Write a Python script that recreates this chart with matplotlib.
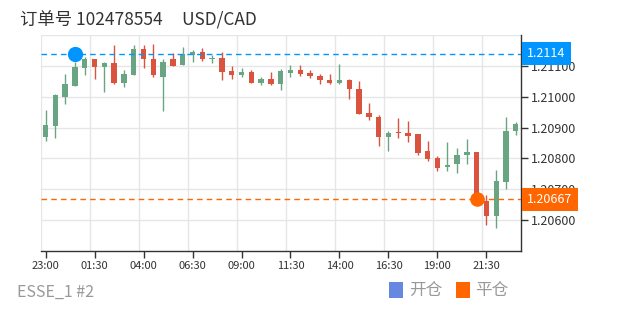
import matplotlib
matplotlib.use("Agg")
import matplotlib.pyplot as plt
from matplotlib.patches import Rectangle
from matplotlib.transforms import blended_transform_factory

plt.rcParams['font.family'] = ['Noto Sans CJK SC', 'DejaVu Sans']

# 30 minute candles, 23:00 -> 23:00 next day
opens = [1.20871, 1.20905, 1.21000, 1.21035, 1.21094, 1.21121, 1.21097, 1.21109, 1.21043, 1.21071,
         1.21154, 1.21122, 1.21063, 1.21121, 1.21103, 1.21135, 1.21146, 1.21123, 1.21126, 1.21083,
         1.21071, 1.21080, 1.21045, 1.21059, 1.21041, 1.21077, 1.21088, 1.21076, 1.21068, 1.21055,
         1.21045, 1.21054, 1.21025, 1.20946, 1.20935, 1.20869, 1.20884, 1.20882, 1.20879, 1.20823,
         1.20800, 1.20771, 1.20782, 1.20810, 1.20821, 1.20661, 1.20615, 1.20725, 1.20889]
highs = [1.20958, 1.21010, 1.21073, 1.21112, 1.21128, 1.21122, 1.21112, 1.21166, 1.21087, 1.21168,
         1.21168, 1.21170, 1.21123, 1.21141, 1.21160, 1.21152, 1.21159, 1.21134, 1.21146, 1.21099,
         1.21093, 1.21085, 1.21063, 1.21080, 1.21091, 1.21102, 1.21102, 1.21086, 1.21073, 1.21073,
         1.21105, 1.21057, 1.21051, 1.20980, 1.20940, 1.20888, 1.20931, 1.20922, 1.20880, 1.20856,
         1.20809, 1.20854, 1.20834, 1.20864, 1.20822, 1.20681, 1.20763, 1.20935, 1.20918]
lows = [1.20856, 1.20867, 1.20977, 1.21035, 1.21071, 1.21057, 1.21014, 1.21040, 1.21030, 1.21071,
        1.21093, 1.21063, 1.20953, 1.21101, 1.21103, 1.21114, 1.21116, 1.21108, 1.21054, 1.21058,
        1.21065, 1.21043, 1.21037, 1.21039, 1.21023, 1.21065, 1.21068, 1.21061, 1.21042, 1.21042,
        1.21041, 1.20992, 1.20945, 1.20924, 1.20840, 1.20824, 1.20867, 1.20852, 1.20812, 1.20793,
        1.20758, 1.20760, 1.20752, 1.20782, 1.20655, 1.20583, 1.20575, 1.20701, 1.20877]
closes = [1.20908, 1.21005, 1.21040, 1.21096, 1.21122, 1.21096, 1.21110, 1.21043, 1.21074, 1.21154,
          1.21122, 1.21071, 1.21112, 1.21101, 1.21140, 1.21146, 1.21123, 1.21125, 1.21081, 1.21071,
          1.21081, 1.21046, 1.21057, 1.21041, 1.21083, 1.21087, 1.21074, 1.21066, 1.21053, 1.21043,
          1.21054, 1.21026, 1.20945, 1.20934, 1.20868, 1.20883, 1.20882, 1.20874, 1.20817, 1.20799,
          1.20768, 1.20780, 1.20810, 1.20821, 1.20667, 1.20615, 1.20728, 1.20890, 1.20910]

tick_labels = ["23:00", "01:30", "04:00", "06:30", "09:00", "11:30", "14:00", "16:30", "19:00", "21:30"]
y_ticks = [1.206, 1.207, 1.208, 1.209, 1.210, 1.211]

open_idx, open_price = 3, 1.2114
close_idx, close_price = 44, 1.20667

title = "订单号 102478554     USD/CAD"
footer = "ESSE_1 #2"

green = "#6aa583"
red = "#d9533f"
blue = "#0095ff"
orange = "#ff6600"

fig = plt.figure(figsize=(6.2, 3.1), dpi=100)
ax = fig.add_axes([40.7 / 620, 1 - 251 / 310, 480 / 620, 216 / 310])

n = len(opens)
ax.set_xlim(-0.5, n - 0.5)
ax.set_ylim(1.205, 1.212)

# grid
for i in range(0, n, 5):
    ax.axvline(i - 0.5, color="#e6e6e6", lw=1, zorder=0)
for k in range(1, 8):
    ax.axhline(1.205 + k * 0.001, color="#e6e6e6", lw=1, zorder=0)

# candles
for i in range(n):
    o, h, l, c = opens[i], highs[i], lows[i], closes[i]
    col = green if c >= o else red
    ax.vlines(i, l, h, color=col, lw=1, zorder=2)
    bot = min(o, c)
    hgt = max(abs(c - o), 0.00003)
    ax.bar(i, hgt, bottom=bot, width=0.55, color=col, zorder=3, lw=0)

# open / close lines
ax.axhline(open_price, color=blue, lw=1, ls=(0, (4, 3)), zorder=4)
ax.axhline(close_price, color=orange, lw=1, ls=(0, (4, 3)), zorder=4)
ax.plot(open_idx, open_price, "o", ms=11, color=blue, mec="none", zorder=6, clip_on=False)
ax.plot(close_idx, close_price, "o", ms=10.5, color=orange, mec="none", zorder=6, clip_on=False)

# axes styling
for s in ["top", "left"]:
    ax.spines[s].set_visible(False)
for s in ["right", "bottom"]:
    ax.spines[s].set_color("#333333")
    ax.spines[s].set_linewidth(1)

ax.yaxis.tick_right()
ax.set_yticks(y_ticks)
ax.set_yticklabels(["%.5f" % v for v in y_ticks])
ax.tick_params(axis="y", length=5, width=1, color="#333333", labelcolor="#333333", labelsize=9, pad=2)

ax.set_xticks(list(range(0, n - 1, 5)))
ax.set_xticklabels(tick_labels)
ax.tick_params(axis="x", length=5, width=1, color="#333333", labelcolor="#333333", labelsize=8, pad=2)

trans = blended_transform_factory(ax.transAxes, ax.transData)
ax.text(1.014, open_price, "1.2114", transform=trans, color="white", fontsize=9, va="center", ha="left",
        zorder=10, bbox=dict(boxstyle="square,pad=0.42", fc=blue, ec="none"), clip_on=False)
ax.text(1.014, close_price, "1.20667", transform=trans, color="white", fontsize=9, va="center", ha="left",
        zorder=10, bbox=dict(boxstyle="square,pad=0.42", fc=orange, ec="none"), clip_on=False)

# title and footer
fig.text(20 / 620, 1 - 20 / 310, title, fontsize=12.5, color="#333333", va="center", ha="left")
fig.text(17 / 620, 1 - 292 / 310, footer, fontsize=11.5, color="#999999", va="center", ha="left")

fig.add_artist(Rectangle((389 / 620, 1 - 298 / 310), 14 / 620, 16 / 310, transform=fig.transFigure,
                         fc="#6788e0", ec="none"))
fig.text(409 / 620, 1 - 290 / 310, "开仓", fontsize=12, color="#999999", va="center", ha="left")
fig.add_artist(Rectangle((456 / 620, 1 - 298 / 310), 14 / 620, 16 / 310, transform=fig.transFigure,
                         fc=orange, ec="none"))
fig.text(475 / 620, 1 - 290 / 310, "平仓", fontsize=12, color="#999999", va="center", ha="left")

fig.savefig("out.png", dpi=100)
